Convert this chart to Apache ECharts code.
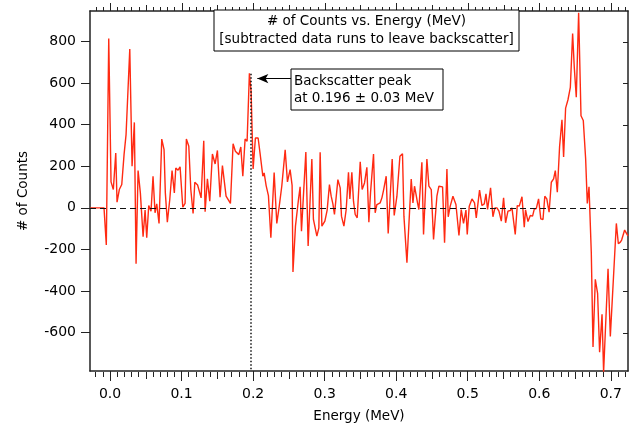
<!DOCTYPE html>
<html>
<head>
<meta charset="utf-8">
<script src="https://cdn.jsdelivr.net/npm/echarts@6/dist/echarts.min.js"></script>
<style>
  html, body { margin: 0; padding: 0; background: #fff; }
  #chart { width: 633px; height: 428px; }
</style>
</head>
<body>
<div id="chart"></div>
<script>
// energy (MeV) of each vertex
const energy = [
  -0.0275, -0.0084, -0.0074, -0.0052, -0.0018, 0.0014, 0.0046, 0.0080, 0.0098, 0.0130,
  0.0164, 0.0196, 0.0224, 0.0276, 0.0308, 0.0340, 0.0364, 0.0392, 0.0424, 0.0462,
  0.0490, 0.0513, 0.0541, 0.0573, 0.0601, 0.0629, 0.0653, 0.0685, 0.0723, 0.0755,
  0.0773, 0.0801, 0.0835, 0.0867, 0.0899, 0.0919, 0.0951, 0.0979, 0.1017, 0.1049,
  0.1067, 0.1101, 0.1129, 0.1161, 0.1185, 0.1224, 0.1273, 0.1310, 0.1329, 0.1361,
  0.1394, 0.1431, 0.1469, 0.1501, 0.1538, 0.1571, 0.1622, 0.1683, 0.1720, 0.1752,
  0.1800, 0.1828, 0.1856, 0.1888, 0.1916, 0.1948, 0.1972, 0.2000, 0.2032, 0.2070,
  0.2098, 0.2136, 0.2154, 0.2182, 0.2214, 0.2248, 0.2294, 0.2331, 0.2364, 0.2401,
  0.2424, 0.2448, 0.2480, 0.2517, 0.2545, 0.2557, 0.2592, 0.2634, 0.2657, 0.2676,
  0.2703, 0.2737, 0.2769, 0.2821, 0.2843, 0.2891, 0.2919, 0.2937, 0.2961, 0.3003,
  0.3035, 0.3067, 0.3091, 0.3115, 0.3137, 0.3151, 0.3185, 0.3217, 0.3235, 0.3269,
  0.3301, 0.3333, 0.3352, 0.3380, 0.3403, 0.3427, 0.3455, 0.3497, 0.3524, 0.3557,
  0.3590, 0.3618, 0.3641, 0.3683, 0.3706, 0.3730, 0.3752, 0.3776, 0.3800, 0.3822,
  0.3860, 0.3888, 0.3944, 0.3972, 0.4010, 0.4052, 0.4088, 0.4108, 0.4150, 0.4210,
  0.4234, 0.4256, 0.4276, 0.4298, 0.4317, 0.4359, 0.4382, 0.4429, 0.4457, 0.4490,
  0.4522, 0.4569, 0.4597, 0.4620, 0.4648, 0.4676, 0.4709, 0.4727, 0.4755, 0.4793,
  0.4835, 0.4877, 0.4909, 0.4941, 0.4975, 0.4993, 0.5021, 0.5059, 0.5095, 0.5119,
  0.5165, 0.5199, 0.5231, 0.5255, 0.5277, 0.5319, 0.5352, 0.5380, 0.5408, 0.5436,
  0.5469, 0.5501, 0.5529, 0.5562, 0.5594, 0.5618, 0.5641, 0.5664, 0.5692, 0.5720,
  0.5758, 0.5790, 0.5808, 0.5842, 0.5874, 0.5906, 0.5930, 0.5958, 0.5990, 0.6021,
  0.6052, 0.6077, 0.6105, 0.6137, 0.6168, 0.6200, 0.6224, 0.6252, 0.6284, 0.6317,
  0.6340, 0.6368, 0.6401, 0.6434, 0.6466, 0.6490, 0.6517, 0.6550, 0.6583, 0.6615,
  0.6648, 0.6671, 0.6695, 0.6727, 0.6751, 0.6783, 0.6815, 0.6843, 0.6877, 0.6899,
  0.6961, 0.6993, 0.7077, 0.7105, 0.7133, 0.7151, 0.7165, 0.7193, 0.7227, 0.7240
];

// # of counts at each vertex
const counts = [
  0, 0, 5, -179, 815, 125, 88, 264, 27, 88,
  112, 256, 352, 764, 200, 411, -269, 179, 72, -139,
  -11, -144, 11, -16, 152, -24, 19, -75, 331, 280,
  72, -69, 40, 179, 72, 192, 181, 197, 3, 21,
  331, 296, 88, -27, 123, 110, 48, 323, -19, 140,
  32, 259, 211, 276, 51, 203, 56, 21, 308, 272,
  256, 293, 152, 331, 320, 647, 559, 187, 336, 336,
  260, 152, 168, 107, 59, -144, 170, -75, 5, 105,
  110, 279, 125, 184, 108, -309, -88, 40, 101, -112,
  -107, 269, -184, 235, -56, -136, -96, 267, -88, -64,
  -11, 112, 56, 19, -32, -40, 136, 96, -40, -88,
  -8, 171, 43, 171, 32, -32, -48, 222, 88, 120,
  195, -69, 72, 259, -24, 16, 24, 24, 48, 83,
  152, -123, 235, -37, 56, 248, 260, -40, -264, 139,
  24, 104, 67, 24, -8, 219, -128, 235, 104, 88,
  -152, 56, 104, 110, 101, -168, 187, -43, 8, 56,
  16, -133, -8, -75, -11, -128, 8, 43, 24, -48,
  85, 11, 19, 67, -8, 96, -43, 0, 0, -16,
  -64, 48, -72, -16, -13, 0, 5, -128, 11, 8,
  53, -93, -10, -66, -37, -40, -6, -4, 43, -53,
  -56, 56, 43, -21, 123, 139, 179, 75, 296, 424,
  245, 480, 520, 580, 839, 671, 532, 938, 443, 420,
  235, 21, 101, -216, -669, -344, -411, -695, -512, -790,
  -293, -619, -75, -173, -165, -155, -160, -107, -128, -135
];

// tick labels
const xTicks = [0, 0.1, 0.2, 0.3, 0.4, 0.5, 0.6, 0.7];
const xMidTicks = [0.05, 0.15, 0.25, 0.35, 0.45, 0.55, 0.65];
const yTicks = [-600, -400, -200, 0, 200, 400, 600, 800];

// annotation
const peakEnergy = 0.1965;
const peakCounts = 645;
const arrowCounts = 622;

const X_MIN = -0.028, X_MAX = 0.724;
const Y_MIN = -785, Y_MAX = 947;

// minor ticks every 0.01
const xMinorTicks = [];
for (let i = -2; i <= 72; i++) xMinorTicks.push(+(i / 100).toFixed(2));

const FONT = 'DejaVu Sans';
const AXIS_COLOR = '#222';
const W = 633, H = 428;
const PLOT = { left: 90, right: 5, top: 11, bottom: 56 };

function xAx(grid, ticks, len, withLine, withLabel) {
  return {
    type: 'value', gridIndex: grid, position: 'bottom', min: X_MIN, max: X_MAX,
    axisLine: { show: withLine, onZero: false, lineStyle: { color: AXIS_COLOR, width: 1.5 } },
    axisTick: { show: true, customValues: ticks, length: len, lineStyle: { color: AXIS_COLOR, width: 1 } },
    axisLabel: withLabel ? {
      show: true, customValues: ticks, margin: 16,
      formatter: v => v.toFixed(1),
      color: '#000', fontFamily: FONT, fontSize: 14
    } : { show: false },
    splitLine: { show: false }
  };
}

function hiddenY(grid) {
  return { type: 'value', gridIndex: grid, min: Y_MIN, max: Y_MAX, show: false,
           axisLine: { onZero: false }, splitLine: { show: false } };
}

const chart = echarts.init(document.getElementById('chart'));

const xAxes = [
  xAx(0, xTicks, 10, true, true),
  {
    type: 'value', gridIndex: 0, position: 'top', min: X_MIN, max: X_MAX,
    axisLine: { show: true, onZero: false, lineStyle: { color: AXIS_COLOR, width: 1.5 } },
    axisTick: { show: false }, axisLabel: { show: false }, splitLine: { show: false }
  },
  xAx(1, xMinorTicks, 5, false, false),
  xAx(2, xMidTicks, 7, false, false)
];
Object.assign(xAxes[0], {
  name: 'Energy (MeV)', nameLocation: 'middle', nameGap: 38,
  nameTextStyle: { color: '#000', fontFamily: FONT, fontSize: 13.5 }
});

chart.setOption({
  animation: false,
  backgroundColor: '#fff',
  grid: [PLOT, PLOT, PLOT].map(g => Object.assign({}, g)),
  xAxis: xAxes,
  yAxis: [
    {
      type: 'value', gridIndex: 0, position: 'left', min: Y_MIN, max: Y_MAX,
      name: '# of Counts', nameLocation: 'middle', nameGap: 60,
      nameTextStyle: { color: '#000', fontFamily: FONT, fontSize: 13.5 },
      axisLine: { show: true, onZero: false, lineStyle: { color: AXIS_COLOR, width: 1.5 } },
      axisTick: { show: true, customValues: yTicks, length: 9, lineStyle: { color: AXIS_COLOR } },
      axisLabel: { customValues: yTicks, margin: 14, color: '#000', fontFamily: FONT, fontSize: 14 },
      splitLine: { show: false }
    },
    {
      type: 'value', gridIndex: 0, position: 'right', min: Y_MIN, max: Y_MAX,
      axisLine: { show: true, onZero: false, lineStyle: { color: AXIS_COLOR, width: 1.5 } },
      axisTick: { show: false }, axisLabel: { show: false }, splitLine: { show: false }
    },
    hiddenY(1),
    hiddenY(2)
  ],
  series: [
    {
      type: 'line',
      xAxisIndex: 0,
      yAxisIndex: 0,
      data: energy.map((e, i) => [e, counts[i]]),
      showSymbol: false,
      clip: true,
      lineStyle: { color: '#ff2a12', width: 1.4 },
      markLine: {
        silent: true,
        symbol: ['none', 'none'],
        label: { show: false },
        data: [
          [
            { coord: [X_MIN, 0], lineStyle: { color: '#111', width: 1.2, type: [6, 4] } },
            { coord: [X_MAX, 0] }
          ],
          [
            { coord: [peakEnergy, peakCounts], lineStyle: { color: '#111', width: 1.5, type: [1.5, 2] } },
            { coord: [peakEnergy, Y_MIN] }
          ],
          [
            { coord: [0.2059, arrowCounts], symbol: 'arrow', symbolSize: [7, 11],
              lineStyle: { color: '#000', width: 1.2, type: 'solid' } },
            { coord: [0.2531, arrowCounts], symbol: 'none' }
          ]
        ]
      }
    }
  ]
});

// pixel position of a data point via the grid's scales, with a plain linear fallback
function toPx(xv, yv) {
  let p = null;
  try { p = chart.convertToPixel({ gridIndex: 0 }, [xv, yv]); } catch (e) { p = null; }
  if (p && isFinite(p[0]) && isFinite(p[1])) return p;
  const pw = W - PLOT.left - PLOT.right, ph = H - PLOT.top - PLOT.bottom;
  return [PLOT.left + (xv - X_MIN) / (X_MAX - X_MIN) * pw,
          PLOT.top + (Y_MAX - yv) / (Y_MAX - Y_MIN) * ph];
}

// mirrored ticks: top edge points outward, right edge points inward
const tickEls = [];
function addTopTicks(values, len) {
  values.forEach(v => {
    const p = toPx(v, Y_MAX);
    const x = Math.round(p[0]) + 0.5;
    tickEls.push({ type: 'line', z: 50, shape: { x1: x, y1: p[1], x2: x, y2: p[1] - len },
                   style: { stroke: AXIS_COLOR, lineWidth: 1 } });
  });
}
addTopTicks(xMinorTicks, 4);
addTopTicks(xMidTicks, 6);
addTopTicks(xTicks, 8);
yTicks.forEach(v => {
  const p = toPx(X_MAX, v);
  const y = Math.round(p[1]) + 0.5;
  tickEls.push({ type: 'line', z: 50, shape: { x1: p[0], y1: y, x2: p[0] - 5, y2: y },
                 style: { stroke: AXIS_COLOR, lineWidth: 1 } });
});

const noteEls = [
  { type: 'rect', z: 100, shape: { x: 214, y: 10, width: 305, height: 41 },
    style: { fill: '#fff', stroke: '#000', lineWidth: 1 } },
  { type: 'text', z: 101, x: 366.5, y: 21.7,
    style: { text: '# of Counts vs. Energy (MeV)', fill: '#000', font: '13.5px "DejaVu Sans"',
             textAlign: 'center', textVerticalAlign: 'middle', verticalAlign: 'middle', align: 'center' } },
  { type: 'text', z: 101, x: 366.5, y: 39.3,
    style: { text: '[subtracted data runs to leave backscatter]', fill: '#000', font: '13.5px "DejaVu Sans"',
             textAlign: 'center', textVerticalAlign: 'middle', verticalAlign: 'middle', align: 'center' } },
  { type: 'rect', z: 100, shape: { x: 291, y: 69, width: 152, height: 41 },
    style: { fill: '#fff', stroke: '#000', lineWidth: 1 } },
  { type: 'text', z: 101, x: 294, y: 81.7,
    style: { text: 'Backscatter peak', fill: '#000', font: '13.5px "DejaVu Sans"',
             textAlign: 'left', textVerticalAlign: 'middle', verticalAlign: 'middle', align: 'left' } },
  { type: 'text', z: 101, x: 294, y: 98.3,
    style: { text: 'at 0.196 \u00b1 0.03 MeV', fill: '#000', font: '13.5px "DejaVu Sans"',
             textAlign: 'left', textVerticalAlign: 'middle', verticalAlign: 'middle', align: 'left' } }
];

chart.setOption({ graphic: { elements: tickEls.concat(noteEls) } });
</script>
</body>
</html>
